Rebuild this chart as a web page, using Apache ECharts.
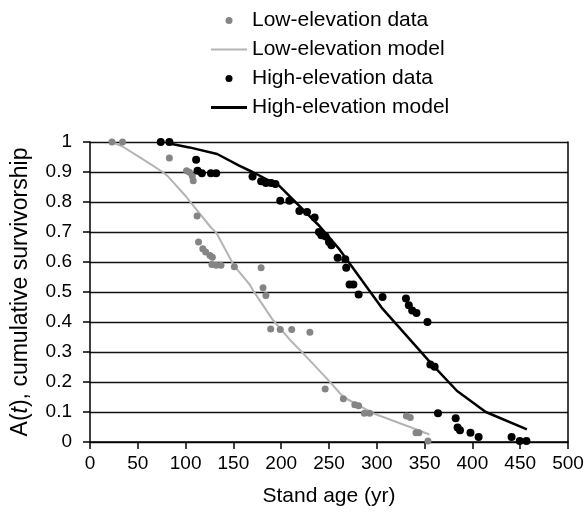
<!DOCTYPE html>
<html>
<head>
<meta charset="utf-8">
<script src="https://cdn.jsdelivr.net/npm/echarts@6/dist/echarts.min.js"></script>
<style>
html,body{margin:0;padding:0;background:#fff;}
#c{width:588px;height:512px;}
</style>
</head>
<body>
<div id="c"></div>
<script>
// Low-elevation observed cumulative survivorship [stand age, A(t)]
var lowData = [
  [23,1.0],[34,1.0],[83,0.947],[101,0.904],[104,0.899],[107,0.887],[108,0.871],
  [112,0.753],[113.5,0.667],[118,0.644],[121,0.633],[125.5,0.622],[128,0.616],
  [127.5,0.592],[132,0.589],[137,0.589],[151,0.584],[179,0.581],[181,0.514],
  [184,0.488],[189,0.377],[199,0.375],[211,0.375],[230,0.366],[246,0.177],
  [265,0.144],[277,0.124],[281,0.121],[287,0.096],[292.5,0.096],[331,0.087],
  [335,0.082],[341,0.031],[344,0.031],[353.5,0.003]
];
// Low-elevation model curve
var lowModel = [
  [23,1.0],[34,0.985],[58,0.937],[76,0.9],[81,0.887],[100,0.82],[104,0.804],
  [126.5,0.715],[132,0.698],[151,0.586],[167,0.525],[170,0.508],[191,0.408],
  [209,0.341],[221,0.302],[249,0.207],[265,0.15],[296,0.096],[334,0.051],[355,0.025]
];
// High-elevation observed cumulative survivorship
var highData = [
  [74,1.0],[83,1.0],[111,0.941],[112.5,0.904],[117,0.896],[126.5,0.896],[132,0.896],
  [170,0.885],[179,0.869],[184,0.863],[189.5,0.863],[194,0.86],[199,0.804],[208.5,0.804],
  [219,0.77],[227,0.767],[235,0.748],[239.5,0.70],[242,0.689],[246.5,0.685],[250,0.667],
  [252.5,0.656],[259,0.614],[267,0.609],[268,0.581],[271.5,0.525],[275.5,0.525],
  [281,0.492],[306,0.483],[330.5,0.478],[333.5,0.456],[337,0.438],[341.5,0.43],
  [353,0.4],[356,0.258],[360.5,0.251],[364,0.096],[382.5,0.079],[384.5,0.048],
  [387,0.039],[398,0.031],[406.5,0.017],[441,0.017],[449.5,0.003],[456.5,0.003]
];
// High-elevation model curve
var highModel = [
  [83,0.995],[104,0.982],[133,0.96],[156,0.921],[170,0.9],[198,0.854],[240,0.72],
  [261,0.642],[305,0.448],[358,0.258],[384,0.17],[414,0.1],[457,0.042]
];
var seriesNames = ['Low-elevation data','Low-elevation model','High-elevation data','High-elevation model'];
var xTicks = {min:0, max:500, interval:50};
var yTicks = {min:0, max:1, interval:0.1};

var FONT = 'Liberation Sans, Arial, Helvetica, sans-serif';
var chart = echarts.init(document.getElementById('c'), null, {renderer:'canvas'});
chart.setOption({
  animation:false,
  backgroundColor:'#fff',
  textStyle:{fontFamily:FONT, color:'#000'},
  legend:{
    orient:'vertical', left:206, top:5, itemWidth:36, itemHeight:7, itemGap:8,
    textStyle:{fontFamily:FONT, fontSize:21, color:'#000', lineHeight:21},
    data:[
      {name:seriesNames[0], icon:'circle'},
      {name:seriesNames[1], icon:'path://M0,0h36v2h-36z'},
      {name:seriesNames[2], icon:'circle'},
      {name:seriesNames[3], icon:'path://M0,0h36v3h-36z'}
    ]
  },
  grid:{left:90, top:142, width:478, height:300},
  xAxis:{
    type:'value', min:xTicks.min, max:xTicks.max, interval:xTicks.interval,
    name:'Stand age (yr)', nameLocation:'middle', nameGap:44,
    nameTextStyle:{fontFamily:FONT, fontSize:21, color:'#000'},
    axisLine:{show:true, lineStyle:{color:'#000', width:1.5}},
    axisTick:{show:true, length:7, lineStyle:{color:'#000', width:1.5}},
    axisLabel:{fontFamily:FONT, fontSize:19, color:'#000', margin:12},
    splitLine:{show:false}
  },
  yAxis:[{
    type:'value', min:yTicks.min, max:yTicks.max, interval:yTicks.interval,
    name:'{a|A(}{i|t}{a|), cumulative survivorship}', nameLocation:'middle', nameGap:58, nameRotate:90,
    nameTextStyle:{fontFamily:FONT, fontSize:23, color:'#000',
      rich:{a:{fontFamily:FONT, fontSize:23, color:'#000'}, i:{fontFamily:FONT, fontSize:23, fontStyle:'italic', color:'#000'}}},
    axisLine:{show:true, lineStyle:{color:'#000', width:1.5}},
    axisTick:{show:true, length:7, lineStyle:{color:'#000', width:1.5}},
    axisLabel:{fontFamily:FONT, fontSize:19, color:'#000', margin:18},
    splitLine:{show:true, lineStyle:{color:'#111', width:1.4}}
  },{
    type:'value', min:yTicks.min, max:yTicks.max, interval:yTicks.interval, position:'right',
    axisLine:{show:true, lineStyle:{color:'#000', width:1.5}},
    axisTick:{show:false}, axisLabel:{show:false}, splitLine:{show:false}
  }],
  series:[
    {name:seriesNames[0], type:'scatter', data:lowData, symbol:'circle', symbolSize:7,
      itemStyle:{color:'#858585', opacity:1}, z:3},
    {name:seriesNames[1], type:'line', data:lowModel, symbol:'none', smooth:false,
      lineStyle:{color:'#b4b4b4', width:2}, itemStyle:{color:'#b4b4b4'}, z:2},
    {name:seriesNames[2], type:'scatter', data:highData, symbol:'circle', symbolSize:8,
      itemStyle:{color:'#000', opacity:1}, z:4},
    {name:seriesNames[3], type:'line', data:highModel, symbol:'none', smooth:false,
      lineStyle:{color:'#000', width:2.5}, itemStyle:{color:'#000'}, z:5}
  ]
});
</script>
</body>
</html>
